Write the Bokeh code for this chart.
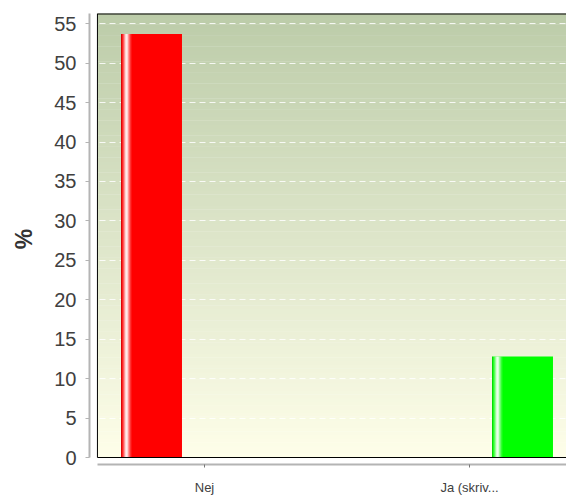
from bokeh.plotting import figure
from bokeh.models import Range1d, FixedTicker, ColumnDataSource
from bokeh.embed import file_html
from bokeh.resources import INLINE

# ---- data ----
categories = ["Nej", "Ja (skriv..."]
values = [53.7, 12.8]
bar_colors = ["#ff0000", "#00ff00"]
series_offsets = [-0.2, 0.2]
y_ticks = [0, 5, 10, 15, 20, 25, 30, 35, 40, 45, 50, 55]

BAR_W = 0.23
PANEL_L, PANEL_R = -0.404, 1.404
X_START, X_END = -0.434, 1.366
Y_START, Y_END = -0.886, 56.3
FONT = "Liberation Sans"

p = figure(width=566, height=497, output_backend="svg", toolbar_location=None,
           x_range=Range1d(X_START, X_END), y_range=Range1d(Y_START, Y_END),
           min_border_left=89, min_border_right=0, min_border_top=13, min_border_bottom=32)
p.outline_line_color = None
p.background_fill_color = "white"
p.border_fill_color = "white"

# ---- background gradient panel ----
n = 120
top = (188, 204, 169)
bot = (254, 254, 233)
bottoms, tops, cols = [], [], []
for i in range(n):
    y0 = Y_END * i / n
    y1 = Y_END * (i + 1) / n
    t = (i + 0.5) / n
    c = tuple(int(round(bot[k] + (top[k] - bot[k]) * t)) for k in range(3))
    bottoms.append(y0)
    tops.append(y1 + 0.05)
    cols.append("#%02x%02x%02x" % c)
p.quad(left=PANEL_L, right=PANEL_R, bottom=bottoms, top=tops, fill_color=cols,
       line_color=None, level="image")

# ---- bars ----
xs = [i + off for i, off in enumerate(series_offsets)]
src = ColumnDataSource(dict(x=xs, top=values, color=bar_colors))
p.vbar(x="x", top="top", width=BAR_W, bottom=0, fill_color="color", line_color=None, source=src)

# highlight stripe (style)
profile = [0.0, 0.15, 0.35, 0.6, 0.85, 0.95, 0.85, 0.6, 0.4, 0.2, 0.08]
px = BAR_W / 61.0
sl, sr, st, sa = [], [], [], []
for x, v in zip(xs, values):
    left = x - BAR_W / 2
    for k, a in enumerate(profile):
        if a <= 0:
            continue
        sl.append(left + k * px)
        sr.append(left + (k + 1) * px)
        st.append(v)
        sa.append(a)
p.quad(left=sl, right=sr, bottom=0, top=st, fill_color="white", fill_alpha=sa, line_color=None)
# darker left edge
p.quad(left=[x - BAR_W / 2 for x in xs], right=[x - BAR_W / 2 + px for x in xs], bottom=0,
       top=values, fill_color="black", fill_alpha=0.15, line_color=None)

# ---- panel border ----
p.segment(x0=[PANEL_L, PANEL_L, PANEL_L], y0=[0, Y_END, 0],
          x1=[PANEL_R, PANEL_R, PANEL_L], y1=[0, Y_END, Y_END],
          line_color="black", line_width=[1, 2, 1])

# ---- grid ----
p.xgrid.visible = False
p.ygrid.ticker = FixedTicker(ticks=y_ticks)
p.ygrid.grid_line_color = "white"
p.ygrid.grid_line_alpha = 0.85
p.ygrid.grid_line_dash = "6 4"
p.ygrid.grid_line_width = 1

# ---- axes ----
ya = p.yaxis[0]
ya.ticker = FixedTicker(ticks=y_ticks)
ya.bounds = (0, Y_END)
ya.axis_line_color = "#b4b4b4"
ya.axis_line_width = 2
ya.major_tick_line_color = "#b4b4b4"
ya.major_tick_out = 4
ya.major_tick_in = 0
ya.minor_tick_line_color = None
ya.major_label_standoff = 9
ya.major_label_text_font = FONT
ya.major_label_text_font_size = "20px"
ya.major_label_text_color = "#404040"
ya.axis_label = "%"
ya.axis_label_text_font = FONT
ya.axis_label_text_font_size = "23px"
ya.axis_label_text_font_style = "bold"
ya.axis_label_text_color = "#333333"
ya.axis_label_standoff = 14

xa = p.xaxis[0]
xa.ticker = FixedTicker(ticks=list(range(len(categories))))
xa.major_label_overrides = {i: c for i, c in enumerate(categories)}
xa.bounds = (PANEL_L, PANEL_R)
xa.axis_line_color = "#b4b4b4"
xa.axis_line_width = 2
xa.major_tick_line_color = "#777777"
xa.major_tick_out = 3
xa.major_tick_in = 0
xa.minor_tick_line_color = None
xa.major_label_standoff = 12
xa.major_label_text_font = FONT
xa.major_label_text_font_size = "13px"
xa.major_label_text_color = "#404040"

open("out.html", "w").write(file_html(p, INLINE))
